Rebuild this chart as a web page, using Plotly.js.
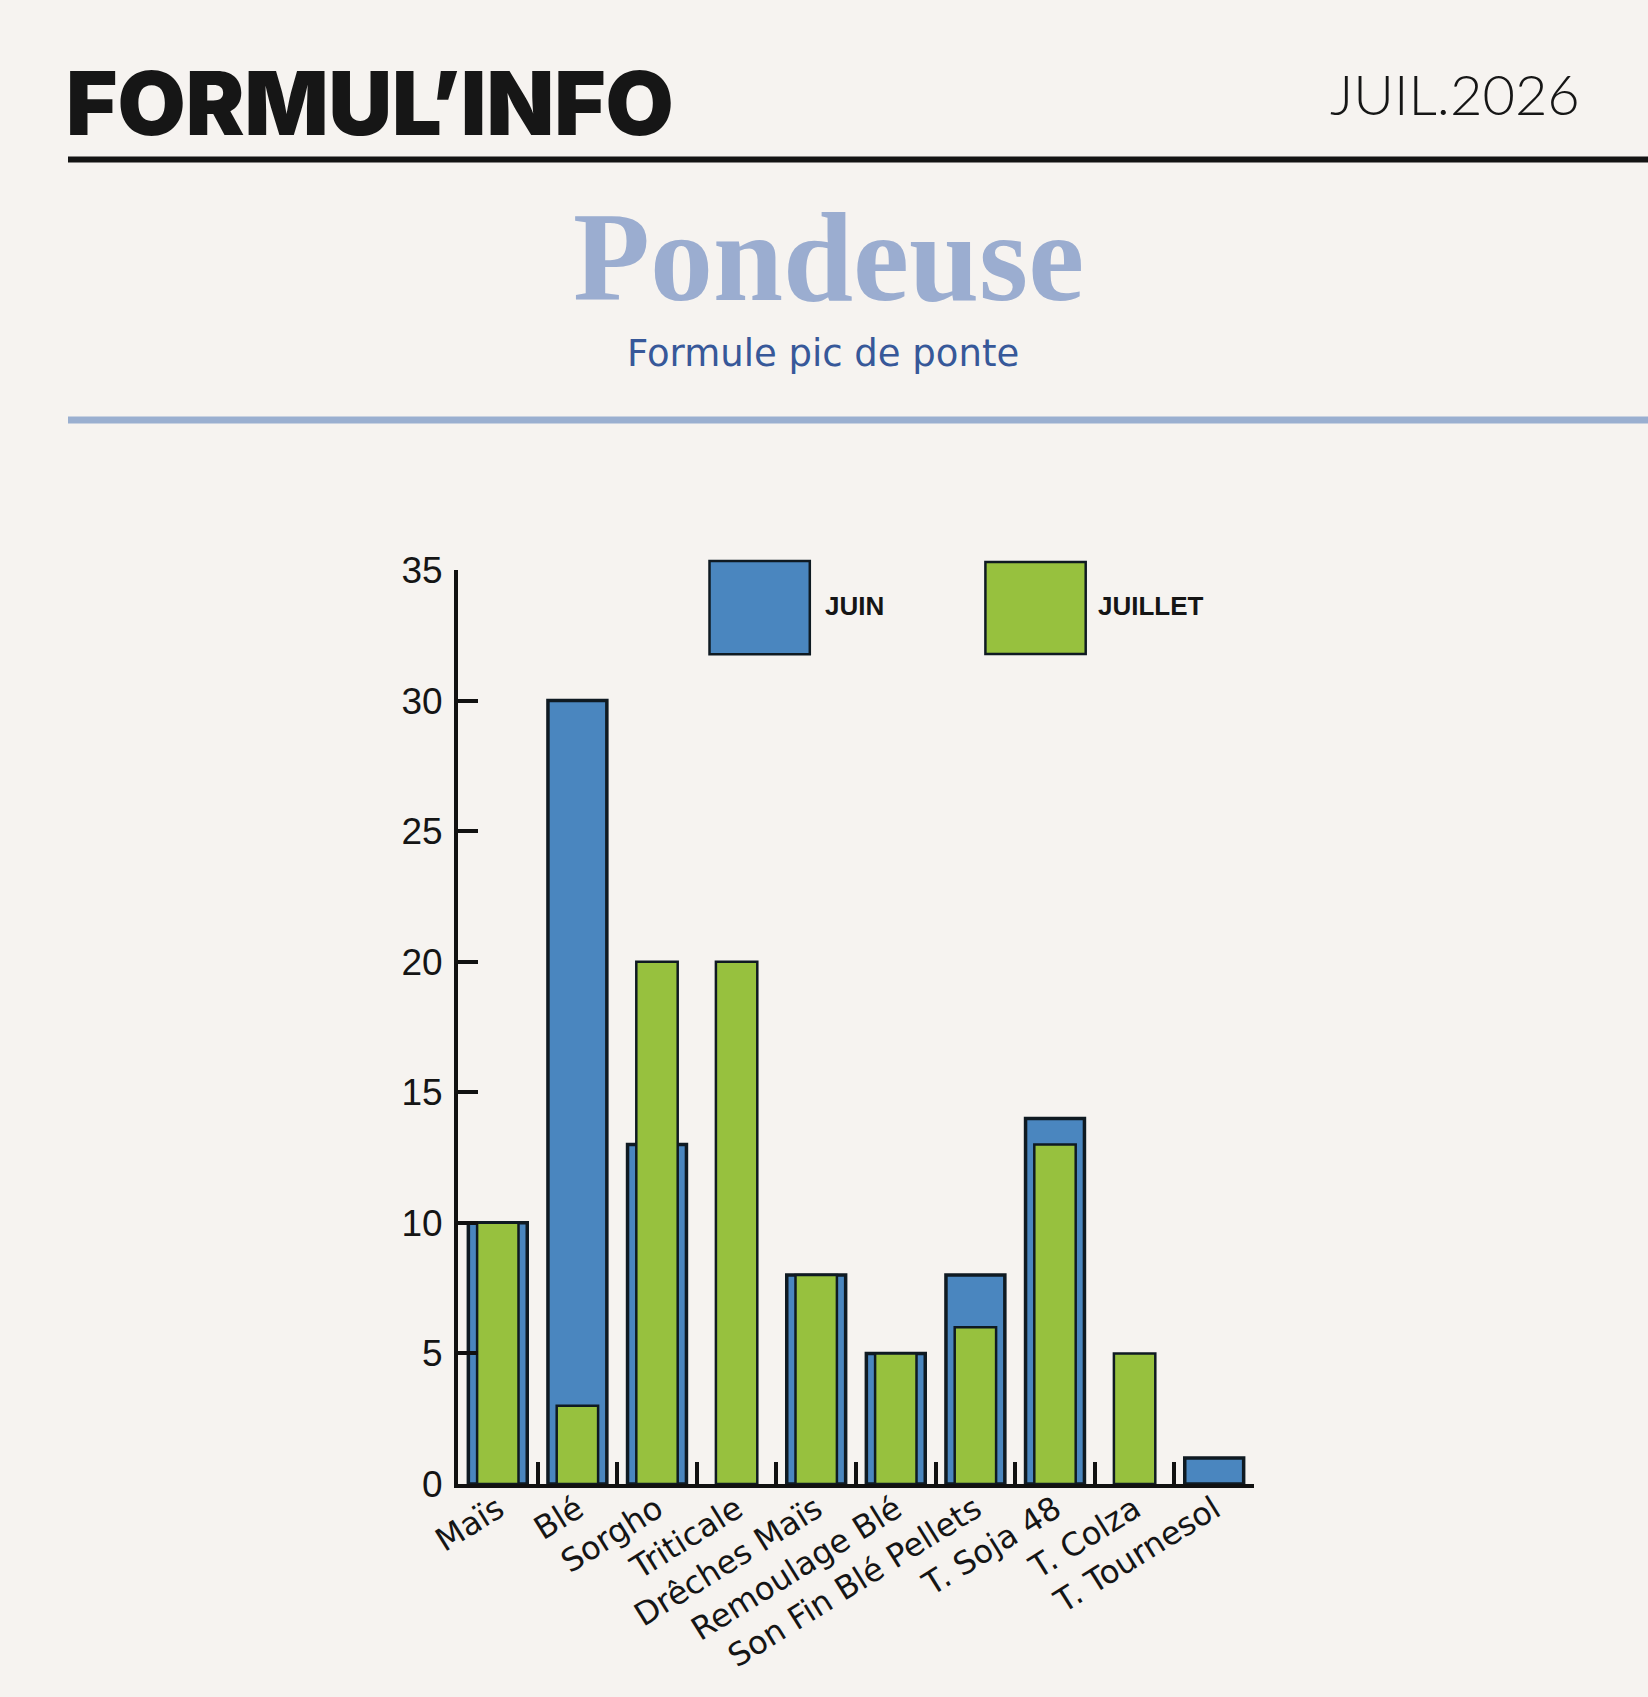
<!DOCTYPE html>
<html>
<head>
<meta charset="utf-8">
<script src="https://cdn.plot.ly/plotly-3.0.1.min.js"></script>
<style>
  html, body { margin: 0; padding: 0; background: #f6f3f0; }
  #chart { width: 1648px; height: 1697px; }
</style>
</head>
<body>
<div id="chart"></div>
<script>
// ---- data ----
const categories = ["Maïs", "Blé", "Sorgho", "Triticale", "Drêches Maïs", "Remoulage Blé",
                    "Son Fin Blé Pellets", "T. Soja 48", "T. Colza", "T. Tournesol"];
const juin    = [10, 30, 13, 0, 8, 5, 8, 14, 0, 1];
const juillet = [10, 3, 20, 20, 8, 5, 6, 13, 5, 0];
const seriesNames = ["JUIN", "JUILLET"];
const yTicks = [0, 5, 10, 15, 20, 25, 30, 35];

// ---- layout helpers (page pixels -> paper coords) ----
const W = 1648, H = 1697;
const L = 458, R = 1254, T = 570, B = 1484;
const xp = px => (px - L) / (R - L);
const yp = py => (B - py) / (B - T);

const BLUE = "#4a86bf", GREEN = "#97c13e", EDGE = "#0f1a22", BG = "#f6f3f0";
// an empty (zero) value draws no bar
const noZero = arr => arr.map(v => (v === 0 ? null : v));

const traces = [
  {
    type: "bar", name: seriesNames[0], x: categories, y: noZero(juin), width: 0.74,
    marker: { color: BLUE, line: { color: EDGE, width: 3.5 } }
  },
  {
    type: "bar", name: seriesNames[1], x: categories, y: noZero(juillet), width: 0.52,
    marker: { color: GREEN, line: { color: EDGE, width: 2.5 } }
  }
];

const layout = {
  width: W, height: H,
  paper_bgcolor: BG, plot_bgcolor: BG,
  margin: { l: L, r: W - R, t: T, b: H - B, pad: 0 },
  barmode: "overlay",
  showlegend: false,
  xaxis: {
    type: "category", range: [-0.5, 9.5], tickson: "boundaries",
    ticks: "inside", ticklen: 22, tickwidth: 4, tickcolor: "#111",
    showline: true, linecolor: "#111", linewidth: 4,
    showgrid: false, zeroline: false,
    tickangle: -32, ticklabelstandoff: -10,
    tickfont: { family: "'DejaVu Sans', sans-serif", size: 32, color: "#151515" }
  },
  yaxis: {
    range: [0, 35], tickvals: yTicks, ticktext: yTicks.map(String),
    ticks: "inside", ticklen: 20, tickwidth: 4, tickcolor: "#111",
    showline: true, linecolor: "#111", linewidth: 4,
    showgrid: false, zeroline: false, ticklabelstandoff: 4,
    tickfont: { family: "'Liberation Sans', Arial, sans-serif", size: 37, color: "#151515" }
  },
  shapes: [
    { type: "line", xref: "paper", yref: "paper", x0: xp(68), x1: xp(1648), y0: yp(159.5), y1: yp(159.5),
      line: { color: "#141414", width: 6 } },
    { type: "line", xref: "paper", yref: "paper", x0: xp(68), x1: xp(1648), y0: yp(420), y1: yp(420),
      line: { color: "#9aafd0", width: 7 } },
    { type: "rect", xref: "paper", yref: "paper", x0: xp(709.5), x1: xp(809.8), y0: yp(654.3), y1: yp(561),
      fillcolor: BLUE, line: { color: EDGE, width: 2.5 } },
    { type: "rect", xref: "paper", yref: "paper", x0: xp(985.4), x1: xp(1085.7), y0: yp(654), y1: yp(562),
      fillcolor: GREEN, line: { color: EDGE, width: 2.5 } }
  ],
  annotations: [
    { text: "FORMUL’INFO", xref: "paper", yref: "paper", x: xp(64), y: yp(103), xanchor: "left", yanchor: "middle",
      showarrow: false, font: { family: "Inter, Lato, sans-serif", size: 88, weight: 900, color: "#161616" } },
    { text: "JUIL.2026", xref: "paper", yref: "paper", x: xp(1582), y: yp(93), xanchor: "right", yanchor: "middle",
      showarrow: false, font: { family: "Lato, Inter, sans-serif", size: 56, weight: 300, color: "#161616" } },
    { text: "Pondeuse", xref: "paper", yref: "paper", x: xp(828), y: yp(257), xanchor: "center", yanchor: "middle",
      showarrow: false, font: { family: "'Liberation Serif', 'Times New Roman', serif", size: 126, weight: 700, color: "#9badd0" } },
    { text: "Formule pic de ponte", xref: "paper", yref: "paper", x: xp(823), y: yp(353), xanchor: "center", yanchor: "middle",
      showarrow: false, font: { family: "'DejaVu Sans', sans-serif", size: 37, color: "#375899" } },
    { text: seriesNames[0], xref: "paper", yref: "paper", x: xp(823), y: yp(606), xanchor: "left", yanchor: "middle",
      showarrow: false, font: { family: "'Liberation Sans', Arial, sans-serif", size: 26, weight: 700, color: "#151515" } },
    { text: seriesNames[1], xref: "paper", yref: "paper", x: xp(1096), y: yp(606), xanchor: "left", yanchor: "middle",
      showarrow: false, font: { family: "'Liberation Sans', Arial, sans-serif", size: 26, weight: 700, color: "#151515" } }
  ]
};

Plotly.newPlot("chart", traces, layout, { displayModeBar: false, staticPlot: true });
</script>
</body>
</html>
